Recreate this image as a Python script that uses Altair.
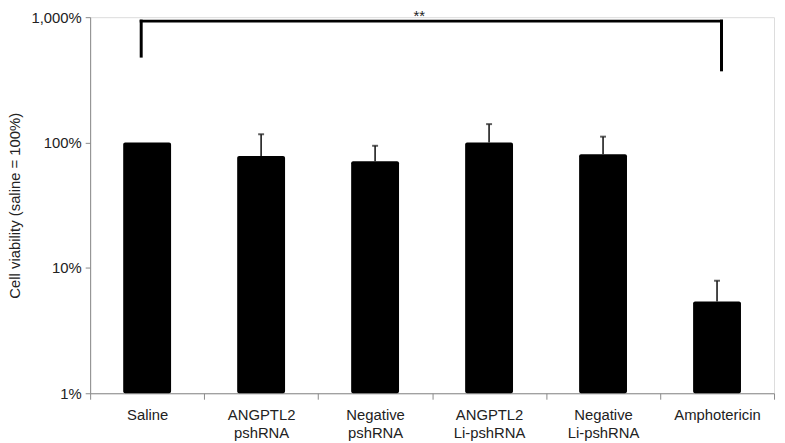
import altair as alt
import pandas as pd

categories = ["Saline", "ANGPTL2 pshRNA", "Negative pshRNA",
              "ANGPTL2 Li-pshRNA", "Negative Li-pshRNA", "Amphotericin"]
viability = [100, 78.2, 70.9, 100, 80.5, 5.4]
error_top = [None, 116.4, 94.2, 140.2, 111.4, 7.9]

y_ticks = [1, 10, 100, 1000]

# significance bracket (Saline vs Amphotericin)
bracket_from = "Saline"
bracket_to = "Amphotericin"
bracket_level = 930
bracket_left_end = 489
bracket_right_end = 380
sig_label = "**"

df = pd.DataFrame({"category": categories, "viability": viability, "err": error_top})
err_df = df.dropna(subset=["err"])

FONT = "Liberation Sans"
TXT = "#222222"
AX = "#8a8a8a"

xscale = alt.Scale(domain=categories, paddingInner=0, paddingOuter=0)
yscale = alt.Scale(type="log", domain=[1, 1000], nice=False)

xenc = alt.X("category:N", scale=xscale, sort=categories, title=None,
             axis=alt.Axis(labelAngle=0, labelExpr="split(datum.label, ' ')",
                           tickBand="extent", tickSize=6, ticks=True,
                           domainColor=AX, tickColor=AX, labelPadding=9,
                           labelFont=FONT, labelFontSize=15, labelColor=TXT,
                           labelLineHeight=18, grid=False))
yenc = alt.Y("viability:Q", scale=yscale, title="Cell viability (saline = 100%)",
             axis=alt.Axis(values=y_ticks, labelExpr="format(datum.value, ',') + '%'",
                           tickSize=5, domainColor=AX, tickColor=AX, grid=False,
                           labelFont=FONT, labelFontSize=15, labelColor=TXT,
                           labelPadding=4, titleFont=FONT, titleFontSize=15,
                           titleFontWeight="normal", titleColor=TXT, titlePadding=8))

bars = alt.Chart(df).mark_bar(color="black", width=alt.RelativeBandSize(0.42),
                              cornerRadius=2).encode(
    x=xenc, y=yenc, y2=alt.datum(1))

err_rule = alt.Chart(err_df).mark_rule(color="#1a1a1a", strokeWidth=1.6).encode(
    x=alt.X("category:N", scale=xscale, sort=categories),
    y=alt.Y("viability:Q", scale=yscale), y2="err:Q")

err_cap = alt.Chart(err_df).mark_tick(color="#1a1a1a", size=6, thickness=2).encode(
    x=alt.X("category:N", scale=xscale, sort=categories),
    y=alt.Y("err:Q", scale=yscale))

br_df = pd.DataFrame({"a": [bracket_from], "b": [bracket_to], "lvl": [bracket_level],
                      "le": [bracket_left_end], "re": [bracket_right_end]})

br_top = alt.Chart(br_df).mark_rule(color="black", strokeWidth=3, strokeCap="square",
                                   xOffset=-6, x2Offset=4.5).encode(
    x=alt.X("a:N", scale=xscale), x2="b:N", y=alt.Y("lvl:Q", scale=yscale))
br_left = alt.Chart(br_df).mark_rule(color="black", strokeWidth=3, strokeCap="square",
                                    xOffset=-6).encode(
    x=alt.X("a:N", scale=xscale), y=alt.Y("le:Q", scale=yscale), y2="lvl:Q")
br_right = alt.Chart(br_df).mark_rule(color="black", strokeWidth=3, strokeCap="square",
                                     xOffset=4.5).encode(
    x=alt.X("b:N", scale=xscale), y=alt.Y("re:Q", scale=yscale), y2="lvl:Q")

sig = alt.Chart(pd.DataFrame({"t": [sig_label], "c": [categories[3]]})).mark_text(
    font=FONT, fontSize=15, color=TXT, baseline="alphabetic", dx=-13, dy=4).encode(
    x=alt.X("c:N", scale=xscale, bandPosition=0),
    y=alt.datum(1000, scale=yscale), text="t:N")

chart = alt.layer(bars, err_rule, err_cap, br_left, br_right, br_top, sig).properties(
    width=691, height=380,
    autosize=alt.AutoSizeParams(type="none"),
    padding={"left": 83, "top": 7, "right": 3, "bottom": 48},
).configure_view(stroke=None).configure(background="white")

chart.save("out.html", embed_options={"renderer": "svg", "actions": False})
